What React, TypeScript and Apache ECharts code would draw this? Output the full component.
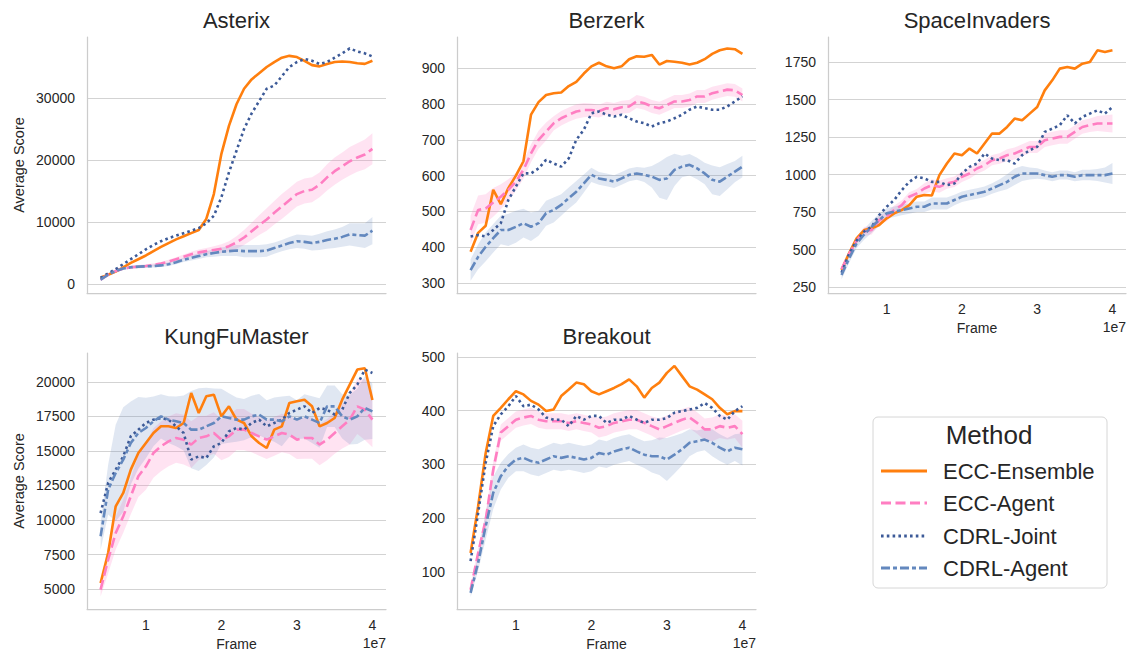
import React, { useEffect, useRef } from "react";
import * as echarts from "echarts";

// frames in millions
const frames = [4, 5, 6, 7, 8, 9, 10, 11, 12, 13, 14, 15, 16, 17, 18, 19, 20, 21, 22, 23, 24, 25, 26, 27, 28, 29, 30, 31, 32, 33, 34, 35, 36, 37, 38, 39, 40];
const methods = ["ECC-Ensemble", "ECC-Agent", "CDRL-Joint", "CDRL-Agent"];
const xTicks = [1e7, 2e7, 3e7, 4e7];

// Asterix
const astEns = [1000, 1500, 2000, 2700, 3400, 4000, 4600, 5300, 6000, 6600, 7200, 7700, 8200, 8700, 10500, 14500, 21000, 25500, 29000, 31500, 33000, 34000, 35000, 35800, 36500, 36800, 36600, 36000, 35300, 35100, 35500, 35800, 35900, 35800, 35600, 35500, 36000];
const astAgent = [700, 1500, 2100, 2500, 2700, 2800, 2900, 3100, 3300, 3600, 4000, 4400, 4800, 5100, 5300, 5500, 5700, 6100, 6700, 7500, 8500, 9500, 10400, 11500, 12500, 13500, 14500, 15000, 15200, 16000, 17200, 18200, 19000, 19800, 20400, 20900, 21800];
const astAgentSpread = [200, 250, 250, 250, 250, 250, 250, 250, 250, 300, 300, 350, 400, 450, 500, 600, 700, 800, 1000, 1200, 1400, 1600, 1800, 1900, 2000, 2000, 2000, 2000, 2000, 2000, 2100, 2200, 2200, 2300, 2300, 2400, 2500];
const astJoint = [1000, 1700, 2400, 3200, 4000, 4800, 5600, 6300, 6900, 7400, 7800, 8200, 8600, 9000, 9800, 11000, 14000, 18000, 21500, 25000, 27500, 29500, 31500, 32000, 33500, 35000, 35800, 36300, 36000, 35500, 35800, 36500, 37200, 38000, 37500, 37200, 36700];
const astCdrl = [700, 1500, 2100, 2500, 2700, 2800, 2850, 2900, 3000, 3200, 3500, 3900, 4200, 4500, 4800, 5000, 5200, 5300, 5400, 5300, 5300, 5300, 5400, 5800, 6200, 6600, 6900, 6800, 6600, 6800, 7100, 7300, 7600, 8000, 7900, 7800, 8600];
const astCdrlSpread = [200, 250, 250, 250, 250, 250, 250, 250, 250, 300, 300, 350, 400, 450, 500, 600, 700, 800, 900, 1000, 1000, 1000, 1000, 900, 900, 1000, 1100, 1100, 1200, 1300, 1400, 1500, 1600, 1800, 1900, 2000, 2200];

// Berzerk
const berEns = [387, 440, 460, 560, 520, 565, 600, 640, 770, 805, 825, 830, 832, 850, 862, 885, 905, 915, 905, 900, 905, 925, 933, 932, 937, 910, 920, 918, 915, 910, 915, 925, 940, 950, 955, 953, 940];
const berAgent = [448, 504, 508, 525, 541, 560, 583, 616, 662, 700, 723, 746, 760, 770, 779, 783, 783, 780, 788, 785, 791, 793, 807, 802, 793, 788, 797, 807, 807, 811, 821, 821, 830, 835, 840, 838, 825];
const berAgentSpread = [40, 40, 40, 40, 35, 30, 25, 25, 25, 25, 25, 20, 20, 20, 20, 20, 18, 18, 18, 18, 18, 18, 18, 18, 18, 18, 18, 18, 18, 18, 18, 18, 18, 18, 18, 18, 18];
const berJoint = [430, 434, 430, 448, 467, 532, 569, 606, 606, 620, 644, 634, 625, 648, 700, 728, 774, 779, 770, 765, 770, 760, 751, 746, 737, 746, 751, 760, 770, 784, 793, 788, 784, 784, 793, 807, 821];
const berCdrl = [336, 373, 401, 425, 448, 448, 457, 467, 457, 467, 495, 504, 518, 537, 555, 578, 602, 592, 588, 583, 592, 602, 606, 602, 597, 588, 592, 616, 625, 630, 620, 606, 588, 583, 597, 611, 625];
const berCdrlSpread = [30, 35, 40, 40, 40, 45, 45, 40, 40, 35, 35, 35, 30, 30, 30, 25, 20, 18, 18, 18, 18, 18, 18, 20, 30, 50, 60, 45, 30, 30, 30, 30, 40, 40, 35, 30, 30];

// SpaceInvaders
const spaEns = [364, 475, 574, 630, 641, 663, 708, 741, 763, 796, 852, 863, 860, 996, 1073, 1140, 1129, 1173, 1140, 1207, 1273, 1273, 1317, 1373, 1362, 1406, 1450, 1561, 1628, 1706, 1717, 1706, 1739, 1750, 1828, 1817, 1828];
const spaAgent = [370, 470, 560, 620, 630, 696, 719, 763, 796, 852, 874, 907, 929, 918, 940, 951, 985, 1007, 1040, 1062, 1096, 1107, 1129, 1140, 1162, 1184, 1184, 1229, 1240, 1251, 1251, 1284, 1317, 1329, 1340, 1340, 1340];
const spaAgentSpread = [20, 20, 25, 30, 30, 30, 30, 30, 30, 30, 30, 35, 40, 40, 35, 35, 35, 35, 35, 35, 35, 35, 40, 40, 40, 40, 40, 45, 45, 45, 45, 45, 45, 45, 50, 55, 60];
const spaJoint = [345, 470, 560, 620, 652, 730, 785, 830, 896, 951, 985, 974, 951, 951, 929, 940, 1007, 1051, 1073, 1140, 1107, 1096, 1096, 1073, 1129, 1162, 1184, 1284, 1306, 1329, 1395, 1340, 1384, 1406, 1428, 1406, 1450];
const spaCdrl = [330, 440, 540, 600, 652, 696, 741, 752, 763, 774, 785, 785, 807, 807, 807, 830, 852, 863, 874, 885, 907, 929, 951, 985, 1007, 1007, 1007, 996, 985, 996, 996, 985, 996, 996, 996, 996, 1007];
const spaCdrlSpread = [30, 30, 30, 35, 40, 40, 35, 35, 35, 35, 35, 35, 40, 40, 40, 35, 35, 35, 35, 35, 35, 40, 50, 55, 50, 40, 35, 30, 30, 30, 30, 30, 35, 35, 40, 50, 70];

// KungFuMaster
const kfmEns = [5437, 7611, 10992, 11958, 13649, 14856, 15581, 16305, 16788, 16788, 16667, 17029, 19203, 17754, 18962, 19082, 17512, 18237, 17271, 17029, 16063, 15581, 15218, 16546, 16788, 18479, 18600, 18720, 18237, 16788, 17029, 17392, 18720, 19807, 20900, 21000, 18700];
const kfmAgent = [4955, 7128, 9060, 10268, 11717, 13166, 13890, 14856, 15339, 15701, 15943, 15822, 15460, 15943, 16063, 16305, 15822, 16063, 16546, 16546, 16305, 16063, 15822, 16063, 16305, 16184, 15822, 15943, 15943, 15460, 15822, 16305, 16788, 17271, 18237, 17996, 17271];
const kfmAgentSpread = [500, 1000, 1200, 1200, 1300, 1500, 1700, 1800, 1800, 1800, 1800, 1800, 1700, 1600, 1500, 1500, 1500, 1500, 1500, 1500, 1400, 1400, 1400, 1400, 1400, 1400, 1400, 1500, 1500, 1500, 1500, 1500, 1600, 1800, 2000, 2200, 2000];
const kfmJoint = [10500, 12682, 13649, 14614, 16063, 16546, 17029, 17271, 17392, 17271, 16788, 16305, 14373, 14614, 14493, 15339, 15581, 16426, 16667, 16546, 17029, 17271, 16788, 17029, 17271, 17754, 17996, 18237, 17754, 18116, 17996, 17633, 17996, 19203, 19807, 20894, 20652];
const kfmCdrl = [8818, 12200, 13407, 14373, 15581, 16305, 16667, 17150, 17512, 17271, 17150, 17029, 16546, 16546, 16788, 17029, 17512, 17392, 17271, 17271, 17512, 17633, 17271, 17271, 17150, 17512, 17271, 17512, 17271, 17029, 18237, 18237, 17512, 17271, 17512, 18116, 17875];
const kfmCdrlSpread = [1000, 1800, 3500, 3800, 3000, 2600, 2200, 1800, 1600, 1700, 1800, 2000, 2800, 3000, 2800, 2500, 2000, 1800, 1600, 1500, 1500, 1500, 1400, 1600, 1800, 1500, 1400, 1600, 1700, 1800, 1500, 1500, 1600, 1800, 2000, 2300, 2000];

// Breakout
const brkEns = [135, 222, 321, 390, 405, 421, 436, 430, 418, 411, 399, 402, 427, 439, 452, 449, 436, 430, 436, 442, 449, 458, 445, 424, 442, 452, 470, 483, 464, 445, 439, 430, 421, 405, 393, 399, 399];
const brkAgent = [67, 135, 197, 290, 359, 371, 383, 387, 390, 383, 380, 380, 380, 377, 380, 377, 374, 368, 371, 377, 380, 383, 383, 377, 371, 365, 371, 377, 383, 387, 377, 365, 365, 371, 368, 371, 356];
const brkAgentSpread = [8, 10, 12, 15, 15, 15, 15, 15, 15, 15, 15, 15, 15, 15, 15, 15, 15, 18, 18, 18, 18, 18, 18, 18, 18, 20, 20, 20, 20, 20, 20, 20, 22, 22, 22, 22, 25];
const brkJoint = [120, 210, 303, 371, 393, 408, 427, 408, 411, 402, 387, 383, 383, 371, 390, 383, 390, 390, 377, 383, 383, 390, 383, 377, 383, 383, 386, 396, 399, 402, 405, 414, 405, 390, 383, 399, 408];
const brkCdrl = [61, 117, 185, 247, 278, 297, 309, 312, 306, 303, 309, 315, 312, 315, 312, 309, 312, 321, 318, 324, 328, 331, 324, 318, 315, 315, 309, 318, 328, 340, 343, 346, 340, 331, 324, 331, 328];
const brkCdrlSpread = [8, 15, 25, 30, 25, 22, 22, 25, 25, 25, 25, 25, 25, 25, 25, 25, 25, 25, 25, 25, 25, 25, 25, 25, 30, 35, 40, 35, 30, 25, 20, 20, 25, 25, 25, 25, 30];

const astTicks = [0, 10000, 20000, 30000];
const berTicks = [300, 400, 500, 600, 700, 800, 900];
const spaTicks = [250, 500, 750, 1000, 1250, 1500, 1750];
const kfmTicks = [5000, 7500, 10000, 12500, 15000, 17500, 20000];
const brkTicks = [100, 200, 300, 400, 500];

const FONT = "'Liberation Sans', Arial, Helvetica, sans-serif";
const TXT = "#262626";
const ORANGE = "#ff7f0e";
const PINK = "#ff7ec2";
const PINK_BAND = "rgba(255,126,194,0.22)";
const JOINT = "#3c5a98";
const CDRL = "#6388be";
const CDRL_BAND = "rgba(99,136,190,0.2)";

type Game = {
  name: string; left: number; top: number; width: number; height: number;
  ymin: number; ymax: number; ticks: number[]; showX: boolean; showYName: boolean;
  ens: number[]; agent: number[]; agentSpread: number[]; joint: number[]; cdrl: number[]; cdrlSpread: number[];
};

const games: Game[] = [
  { name: "Asterix", left: 87, top: 37, width: 299, height: 256, ymin: -1450, ymax: 39840, ticks: astTicks, showX: false, showYName: true, ens: astEns, agent: astAgent, agentSpread: astAgentSpread, joint: astJoint, cdrl: astCdrl, cdrlSpread: astCdrlSpread },
  { name: "Berzerk", left: 457, top: 37, width: 299, height: 256, ymin: 272, ymax: 987, ticks: berTicks, showX: false, showYName: false, ens: berEns, agent: berAgent, agentSpread: berAgentSpread, joint: berJoint, cdrl: berCdrl, cdrlSpread: berCdrlSpread },
  { name: "SpaceInvaders", left: 828, top: 37, width: 298, height: 256, ymin: 210, ymax: 1917, ticks: spaTicks, showX: true, showYName: false, ens: spaEns, agent: spaAgent, agentSpread: spaAgentSpread, joint: spaJoint, cdrl: spaCdrl, cdrlSpread: spaCdrlSpread },
  { name: "KungFuMaster", left: 87, top: 353, width: 299, height: 256, ymin: 3551, ymax: 22101, ticks: kfmTicks, showX: true, showYName: true, ens: kfmEns, agent: kfmAgent, agentSpread: kfmAgentSpread, joint: kfmJoint, cdrl: kfmCdrl, cdrlSpread: kfmCdrlSpread },
  { name: "Breakout", left: 457, top: 353, width: 299, height: 256, ymin: 31, ymax: 507, ticks: brkTicks, showX: true, showYName: false, ens: brkEns, agent: brkAgent, agentSpread: brkAgentSpread, joint: brkJoint, cdrl: brkCdrl, cdrlSpread: brkCdrlSpread },
];

const pts = (vals: number[]) => frames.map((f, j) => [f * 1e6, vals[j]]);

// band as a custom series: one polygon through upper edge then lower edge
function bandSeries(i: number, mean: number[], spread: number[], color: string, z: number) {
  const upper = frames.map((f, j) => [f * 1e6, mean[j] + spread[j]]);
  const lower = frames.map((f, j) => [f * 1e6, mean[j] - spread[j]]);
  return {
    type: "custom", xAxisIndex: i, yAxisIndex: i, silent: true, z,
    data: [upper[0]],
    renderItem: (_params: any, api: any) => {
      const ring = upper.concat(lower.slice().reverse()).map((p) => api.coord(p));
      return { type: "polygon", shape: { points: ring }, style: { fill: color, stroke: "none" } };
    },
  };
}

function buildOption() {
  const grid: any[] = [];
  const xAxis: any[] = [];
  const yAxis: any[] = [];
  const series: any[] = [];
  const graphic: any[] = [];

  games.forEach((g, i) => {
    grid.push({ left: g.left, top: g.top, width: g.width, height: g.height, containLabel: false, outerBoundsMode: "none" });
    xAxis.push({
      type: "value", gridIndex: i, min: 2.2e6, max: 41.8e6,
      axisLine: { show: true, onZero: false, lineStyle: { color: "#cccccc", width: 1.25 } },
      axisTick: { show: false, customValues: xTicks },
      axisLabel: { show: g.showX, customValues: xTicks, formatter: (v: number) => String(Math.round(v / 1e7)), color: TXT, fontSize: 14, fontFamily: FONT, margin: 9 },
      splitLine: { show: false },
    });
    yAxis.push({
      type: "value", gridIndex: i, min: g.ymin, max: g.ymax,
      axisLine: { show: true, onZero: false, lineStyle: { color: "#cccccc", width: 1.25 } },
      axisTick: { show: false, customValues: g.ticks },
      axisLabel: { show: true, customValues: g.ticks, formatter: (v: number) => String(v), color: TXT, fontSize: 14, fontFamily: FONT, margin: 12 },
      splitLine: { show: true, lineStyle: { color: "#d3d3d3", width: 1 } },
    });
    const base = { xAxisIndex: i, yAxisIndex: i, symbol: "none", showSymbol: false, silent: true };
    series.push({ ...base, type: "line", name: methods[0], data: pts(g.ens), lineStyle: { color: ORANGE, width: 2.6 }, z: 3 });
    series.push(bandSeries(i, g.agent, g.agentSpread, PINK_BAND, 3));
    series.push({ ...base, type: "line", name: methods[1], data: pts(g.agent), lineStyle: { color: PINK, width: 2.6, type: [10, 4.5] }, z: 3 });
    series.push({ ...base, type: "line", name: methods[2], data: pts(g.joint), lineStyle: { color: JOINT, width: 2.6, type: [2.6, 3.2] }, z: 3 });
    series.push(bandSeries(i, g.cdrl, g.cdrlSpread, CDRL_BAND, 3));
    series.push({ ...base, type: "line", name: methods[3], data: pts(g.cdrl), lineStyle: { color: CDRL, width: 2.6, type: [9, 3, 4, 3] }, z: 3 });

    const cx = g.left + g.width / 2;
    graphic.push({ type: "text", x: cx, y: g.top - 17, style: { text: g.name, fontSize: 22, fontFamily: FONT, fill: TXT, textAlign: "center", textVerticalAlign: "middle" } });
    if (g.showX) {
      graphic.push({ type: "text", x: cx, y: g.top + g.height + 35, style: { text: "Frame", fontSize: 14, fontFamily: FONT, fill: TXT, textAlign: "center", textVerticalAlign: "middle" } });
      graphic.push({ type: "text", x: g.left + g.width, y: g.top + g.height + 34, style: { text: "1e7", fontSize: 14, fontFamily: FONT, fill: TXT, textAlign: "right", textVerticalAlign: "middle" } });
    }
    if (g.showYName) {
      graphic.push({ type: "text", x: 19, y: g.top + g.height / 2, rotation: Math.PI / 2, style: { text: "Average Score", fontSize: 14.5, fontFamily: FONT, fill: TXT, textAlign: "center", textVerticalAlign: "middle" } });
    }
  });

  // legend
  graphic.push({ type: "rect", shape: { x: 873, y: 417, width: 234, height: 171, r: 5 }, style: { fill: "#ffffff", stroke: "#d6d6d6", lineWidth: 1 }, z: 10 });
  graphic.push({ type: "text", x: 989, y: 435, style: { text: "Method", fontSize: 26, fontFamily: FONT, fill: TXT, textAlign: "center", textVerticalAlign: "middle" }, z: 11 });
  const legendStyles = [
    { color: ORANGE, dash: null as any },
    { color: PINK, dash: [10, 4.5] },
    { color: JOINT, dash: [2.6, 3.2] },
    { color: CDRL, dash: [9, 3, 4, 3] },
  ];
  const ly = [471, 503, 536, 568];
  methods.forEach((m, k) => {
    const st: any = { stroke: legendStyles[k].color, lineWidth: 2.8 };
    if (legendStyles[k].dash) st.lineDash = legendStyles[k].dash;
    graphic.push({ type: "line", shape: { x1: 881, y1: ly[k], x2: 927, y2: ly[k] }, style: st, z: 11 });
    graphic.push({ type: "text", x: 943, y: ly[k], style: { text: m, fontSize: 22, fontFamily: FONT, fill: TXT, textAlign: "left", textVerticalAlign: "middle" }, z: 11 });
  });

  return { animation: false, backgroundColor: "#ffffff", grid, xAxis, yAxis, series, graphic };
}

export default function App() {
  const ref = useRef<HTMLDivElement>(null);
  useEffect(() => {
    if (!ref.current) return;
    const chart = echarts.init(ref.current, undefined, { renderer: "svg" });
    chart.setOption(buildOption() as any);
    return () => chart.dispose();
  }, []);
  return <div ref={ref} style={{ position: "fixed", left: 0, top: 0, width: 1128, height: 651, background: "#fff" }} />;
}
